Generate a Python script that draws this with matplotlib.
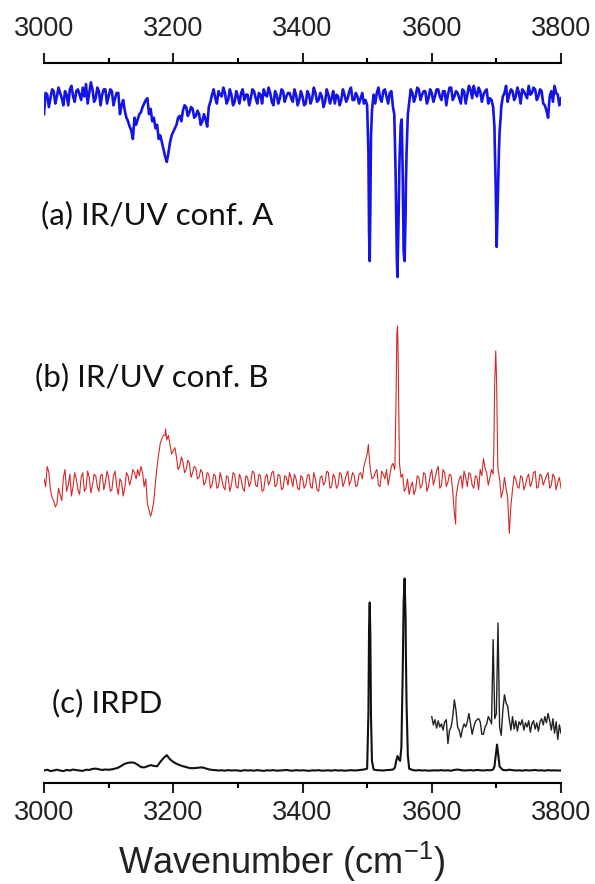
import numpy as np
import matplotlib
matplotlib.use("Agg")
import matplotlib.pyplot as plt
from matplotlib.ticker import MultipleLocator

# wavenumber grids (cm-1) for the noisy part of each trace
wn = np.arange(3000, 3801, 5)
wn_mid = np.arange(3002.5, 3800, 5)

# (a) IR/UV conf. A, depletion in % of the strongest dip
blue_grid = [
    -8, 3, 1, 5, 2, 4, -3, 3, 6, 2, 5, 3, 7, 9, 4, 6, 1, 5, 3, 6,
    2, 5, 1, 4, -3, -6, -12, -17, -10, -11, -7, -2, 1, -5, -10, -14, -20, -28, -35, -24,
    -18, -14, -9, -6, -4, -7, -5, -9, -8, -12, -11, -4, 3, 1, 5, 2, 4, 0, 3, -1,
    2, 4, 0, 3, 1, 5, -2, 3, 6, 2, 4, -3, 3, 1, 5, 2, 4, -1, 3, 0,
    2, -2, 3, 1, 4, 0, 2, -1, 3, 1, -2, 2, 0, 3, 1, 7, 0, 2, 1, -2,
    -3, -60, 3, 4, 1, 5, 2, 4, -4, -65, -35, -40, -48, -2, 4, 2, 6, 3, 5, 1,
    4, 2, 6, 0, 5, 3, 7, 2, 4, -2, 5, 3, 6, 8, 2, 5, 3, 6, 1, -4,
    -75, -18, 2, 8, 3, 5, 2, 4, 6, 3, 8, 4, 6, 2, 5, -3, -10, 5, 8, 3,
    1]
blue_mid = [
    4, -4, 6, -2, 7, 1, 5, -3, 8, -1, 6, 0, 2, -2, 10, -1, 7, -3, 6, -2,
    6, -3, 4, -8, 0, -10, -15, -22, -14, -8, -4, 0, -8, -12, -16, -22, -24, -32, -30, -20,
    -16, -10, -12, -3, -9, -4, -10, -6, -14, -8, -15, -1, 6, -2, 3, 7, -2, 6, -3, 5,
    -2, 6, 3, -3, 6, 1, 4, -2, 3, 7, -1, 5, -2, 6, -1, 4, 1, 6, -3, 5,
    -3, 5, -2, 7, -1, 4, -4, 6, -2, 5, 3, -3, 6, -1, 5, 0, 4, -2, 4, 0,
    -50, -6, -2, 7, -1, 6, -2, 5, -15, -88, -13, -90, -12, 6, -1, 7, 0, 5, -2, 6,
    -1, 6, 2, 5, -3, 7, 0, 5, 1, 6, -2, 8, 1, 4, 7, -1, 5, -2, 0, -25,
    -50, -4, 4, -1, 6, 0, 7, -2, 5, 1, 3, 7, 0, 6, -2, -6, 2, -1, 4, -3]
blue_line_x = [3502, 3503, 3504, 3506, 3542, 3544, 3546, 3547, 3548.5,
               3552, 3553.5, 3556.5, 3558, 3559.5, 3561, 3563,
               3697, 3699, 3700.5, 3702, 3704, 3707]
blue_line_y = [-30, -75, -91, -20, -8, -40, -90, -100, -70,
               -14, -11, -85, -91, -65, -30, -8,
               -15, -50, -83, -60, -28, -8]

# (b) IR/UV conf. B, gain signal in % of the 3547 band
red_grid = [
    2, 10, -5, -12, -14, -8, 3, -6, 5, -3, 2, -8, 6, -4, 3, -2, 4, -6, 5, 0,
    3, -5, 7, -8, 0, -4, 4, 2, 6, 8, 10, -3, -14, -22, -12, 10, 25, 30, 27, 24,
    20, 16, 10, 13, 8, 12, 6, 9, 3, 6, 0, 5, -2, 4, -3, 2, -5, 3, -2, 5,
    -4, 2, -6, 3, 0, 6, -3, 4, -5, 5, 1, 7, -2, 4, -4, 3, 6, -3, 2, -5,
    3, -2, 5, -4, 2, -6, 4, 0, 6, -3, 3, -2, 5, 0, 7, 1, 4, -2, 6, 10,
    18, 8, 3, 8, -3, 5, 8, 4, 12, 60, 12, 5, -4, -8, 0, -5, 3, -2, 5, -3,
    8, 2, 10, -2, 6, 0, 4, -20, -3, 4, 7, -3, 5, -4, 3, 8, 15, 6, 3, 5,
    70, 2, -6, -4, -33, -5, 2, -4, 3, -2, 5, 0, 7, -3, 4, 1, 6, -2, 3, 0,
    -4]
red_mid = [
    -3, 6, -10, -16, -4, -12, 8, -2, -9, 6, -5, 3, -6, 7, -7, 5, -3, 4, -5, 7,
    -6, 4, -3, 2, -9, 6, -2, 8, 2, 4, 6, 2, -18, -18, 0, 18, 28, 30, 30, 18,
    22, 8, 16, 6, 14, 3, 10, 2, 8, -2, 6, -4, 5, -4, 6, -3, 4, -6, 6, -3,
    5, -4, 4, -3, 7, -2, 5, -6, 3, -2, 6, -3, 5, -5, 4, -2, 2, 5, -4, 4,
    -4, 4, -3, 6, -5, 3, -2, 7, -4, 5, -4, 6, -3, 4, -2, 6, -3, 5, 2, 14,
    20, 2, 6, -2, 7, 2, -2, 10, 8, 92, 3, -6, 2, -3, -8, 4, -4, 6, -6, 4,
    -2, 7, -4, 8, -3, 5, -6, -10, 2, -4, 3, 6, -2, 4, -5, 4, 9, -2, 8, 65,
    8, -10, 3, -10, -15, 4, -3, 4, -5, 3, -3, 6, -4, 5, -2, 4, -4, 5, -5, 3]
red_line_x = [3188, 3502, 3543, 3546, 3547, 3548, 3549.5, 3637,
              3696, 3699, 3700.5, 3702]
red_line_y = [34, 24, 10, 95, 100, 80, 30, -27,
              20, 84, 60, 15]

# (c) IRPD, intensity in % of the 3558 band
black_grid = [
    0, 0.4, -0.3, 0, 0.4, 0, -0.3, 0.3, 0, 0.5, 0.2, 0, -0.2, 0.4, 0.3, 0.8, 1.0, 0.6, 0.3, 0.5,
    0.4, 0.6, 1.0, 1.5, 2.5, 3.5, 4.0, 4.2, 4.0, 3.0, 1.8, 1.6, 2.2, 2.8, 2.4, 2.2, 4.5, 6.5, 8.0, 5.8,
    4.5, 3.5, 2.8, 2.2, 1.8, 1.3, 1.2, 1.3, 1.5, 1.6, 1.1, 0.6, 0.3, 0.2, 0, 0.1, -0.1, 0.2, 0, 0.1,
    0, -0.2, 0.2, 0, 0.1, -0.1, 0.2, 0, -0.2, 0.1, 0, 0.2, -0.1, 0, 0.1, 0.3, 0, -0.1, 0.2, 0,
    0.1, 0, -0.2, 0.1, 0, 0.2, -0.1, 0, 0.1, -0.1, 0.2, 0, 0.1, -0.1, 0, 0.2, 0, 0.1, 0.3, 0.5,
    1.0, 70, 0.5, 0.2, 0.1, 0, 0.2, 0.3, 0.5, 5.0, 5.5, 50, 60, 1.0, 0.3, 0, 0.2, 0, 0.1, -0.1,
    0, 0.1, 0, 0.2, 0, 0.1, -0.1, 0.3, 0.5, 0.2, 0, 0.1, 0.2, 0, 0.3, 0.1, 0, 0.2, 0.1, 0.5,
    11, 2.0, 0.3, 0.1, 0.4, 0.2, 0, 0.1, -0.1, 0.2, 0, 0.1, 0.3, 0, 0.1, -0.1, 0.2, 0, 0.1, 0,
    0]
black_line_x = [3502, 3503, 3504, 3506, 3507.5,
                3543, 3547, 3549, 3551, 3553, 3556.5, 3558, 3559.5, 3561, 3563,
                3697, 3699, 3701, 3703]
black_line_y = [30, 75, 87.5, 28, 5,
                1.5, 7.5, 6, 5, 12, 88, 100, 80, 35, 8,
                2, 8, 13.5, 8]

# magnified IRPD scan 3600-3800, % of its largest spike
zoom_wn = np.arange(3600, 3800.1, 2.5)
zoom_y = [
    10, 2, 7, -1,
    6, 0, 3, -3,
    5, 7, -16, -3,
    0, 10, 26, 16,
    0, -3, -10, -2,
    3, 0, 5, 13,
    3, -7, 0, 5,
    7, 8, 5, -7,
    -7, 0, 3, 10,
    7, 3, 84, 8,
    13, 100, 0, -8,
    16, 31, 23, 20,
    7, -3, 10, -2,
    6, -4, 5, 2,
    7, -3, 4, 0,
    6, -5, 3, 6,
    -2, 4, -4, 5,
    8, 2, 10, 4,
    13, 6, -3, 8,
    -6, 5, -12, 2,
    -6]

labels = ["(a) IR/UV conf. A", "(b) IR/UV conf. B", "(c) IRPD"]


def merge(parts):
    x = np.concatenate([np.asarray(p[0], float) for p in parts])
    y = np.concatenate([np.asarray(p[1], float) for p in parts])
    order = np.argsort(x, kind="stable")
    return x[order], y[order]


plt.rcParams["font.family"] = ["Liberation Sans", "DejaVu Sans"]
plt.rcParams["mathtext.fontset"] = "custom"
plt.rcParams["mathtext.rm"] = "Liberation Sans"

fig = plt.figure(figsize=(5.95, 8.84), dpi=100)
ax = fig.add_axes([44 / 595, 1 - 783 / 884, 517 / 595, 720 / 884])

bx, by = merge([(wn, blue_grid), (wn_mid, blue_mid), (blue_line_x, blue_line_y)])
rx, ry = merge([(wn, red_grid), (wn_mid, red_mid), (red_line_x, red_line_y)])
kx, ky = merge([(wn, black_grid), (black_line_x, black_line_y)])

# vertical layout: offset and scale of each trace
ax.plot(bx, 6.83 + by * 0.0177, color="#1414e6", lw=1.9)
ax.plot(rx, 3.01 + ry * 0.0156, color="#d42828", lw=0.8)
ax.plot(kx, 0.125 + ky * 0.0192, color="#111111", lw=1.5)
ax.plot(zoom_wn, 0.56 + np.array(zoom_y) * 0.0104, color="#222222", lw=1.0)

ax.set_xlim(3000, 3800)
ax.set_ylim(0, 7.2)

for s in ["left", "right", "top"]:
    ax.spines[s].set_visible(False)
ax.spines["bottom"].set_linewidth(1.5)
ax.set_yticks([])

ax.xaxis.set_major_locator(MultipleLocator(200))
ax.xaxis.set_minor_locator(MultipleLocator(100))
ax.tick_params(axis="x", which="major", direction="out", length=7, width=1.5,
               labelsize=19.5, pad=5, colors="#222222")
ax.tick_params(axis="x", which="minor", direction="out", length=3.5, width=1.5)

top = ax.secondary_xaxis("top")
top.spines["top"].set_linewidth(1.5)
top.xaxis.set_major_locator(MultipleLocator(200))
top.xaxis.set_minor_locator(MultipleLocator(100))
top.tick_params(axis="x", which="major", direction="out", length=7, width=1.5,
                labelsize=19.5, pad=8, colors="#222222")
top.tick_params(axis="x", which="minor", direction="out", length=3.5, width=1.5)

fig.text(282 / 595, 1 - 862 / 884, r"Wavenumber (cm$^{\mathregular{-1}}$)",
         fontsize=26, ha="center", va="center", color="#222222")

label_pos = [(41, 215), (35, 377), (52, 703)]
for txt, (px, py) in zip(labels, label_pos):
    fig.text(px / 595, 1 - py / 884, txt, fontsize=22.5, family=["Lato", "DejaVu Sans"],
             ha="left", va="center", color="#111111")

fig.savefig("out.png", dpi=100)
